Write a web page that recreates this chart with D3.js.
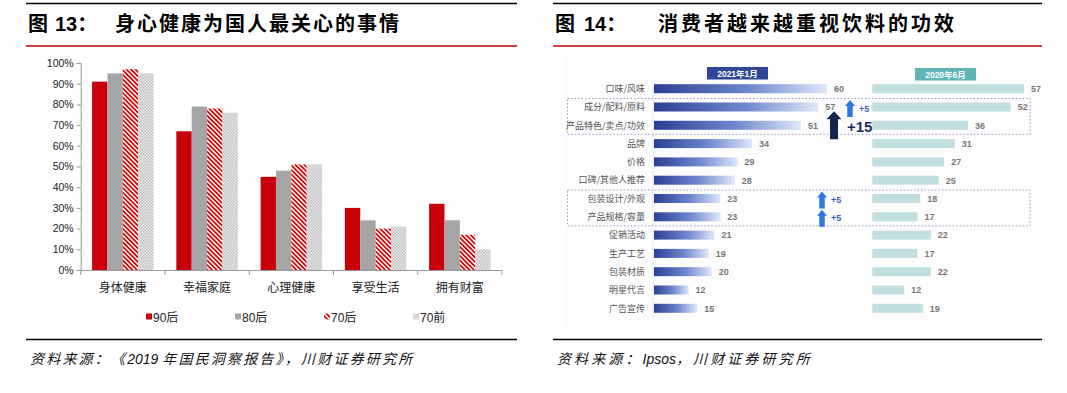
<!DOCTYPE html>
<html>
<head>
<meta charset="utf-8">
<script src="https://cdn.jsdelivr.net/npm/d3@7"></script>
<style>
  html, body { margin: 0; padding: 0; background: #fff; }
  svg { display: block; }
  text { font-family: "Liberation Sans", "Noto Sans CJK SC", sans-serif; }
</style>
</head>
<body>
<svg id="chart" width="1067" height="393"></svg>
<script>
// ---- 图13 数据 ----
const categorias = ["身体健康", "幸福家庭", "心理健康", "享受生活", "拥有财富"];
const geracoes = ["90后", "80后", "70后", "70前"];
const v90 = [91, 67, 45, 30, 32];
const v80 = [95, 79, 48, 24, 24];
const v70 = [97, 78, 51, 20, 17];
const v70q = [95, 76, 51, 21, 10];
const ticksY = [0, 10, 20, 30, 40, 50, 60, 70, 80, 90, 100];

// ---- 图14 数据 ----
const fatores = ["口味/风味", "成分/配料/原料", "产品特色/卖点/功效", "品牌", "价格", "口碑/其他人推荐",
  "包装设计/外观", "产品规格/容量", "促销活动", "生产工艺", "包装材质", "明星代言", "广告宣传"];
const jan2021 = [60, 57, 51, 34, 29, 28, 23, 23, 21, 19, 20, 12, 15];
const jun2020 = [57, 52, 36, 31, 27, 25, 18, 17, 22, 17, 22, 12, 19];
const caixas = [["成分/配料/原料", "产品特色/卖点/功效"], ["包装设计/外观", "产品规格/容量"]];
const setas = [
  { linha: "成分/配料/原料", texto: "+5", tipo: "pequena", dx: 850 },
  { linha: "产品特色/卖点/功效", texto: "+15", tipo: "grande", dx: 834 },
  { linha: "包装设计/外观", texto: "+5", tipo: "pequena", dx: 822 },
  { linha: "产品规格/容量", texto: "+5", tipo: "pequena", dx: 822 }
];

const svg = d3.select("#chart");
const defs = svg.append("defs");

// padrões das barras
const listras = defs.append("pattern").attr("id", "listraVermelha")
  .attr("width", 3.2).attr("height", 3.2).attr("patternUnits", "userSpaceOnUse")
  .attr("patternTransform", "rotate(-45)");
listras.append("rect").attr("width", 3.2).attr("height", 3.2).attr("fill", "#fff");
listras.append("rect").attr("width", 1.7).attr("height", 3.2).attr("fill", "#d40000");

const xadrez = defs.append("pattern").attr("id", "xadrezCinza")
  .attr("width", 3).attr("height", 3).attr("patternUnits", "userSpaceOnUse");
xadrez.append("rect").attr("width", 3).attr("height", 3).attr("fill", "#f2f2f2");
xadrez.append("rect").attr("width", 1.5).attr("height", 1.5).attr("fill", "#b8b8b8");
xadrez.append("rect").attr("x", 1.5).attr("y", 1.5).attr("width", 1.5).attr("height", 1.5).attr("fill", "#b8b8b8");

const grad = defs.append("linearGradient").attr("id", "gradAzul")
  .attr("x1", "0%").attr("x2", "100%").attr("y1", "0%").attr("y2", "0%");
grad.append("stop").attr("offset", "0%").attr("stop-color", "#2b3f94");
grad.append("stop").attr("offset", "55%").attr("stop-color", "#6f87cf");
grad.append("stop").attr("offset", "100%").attr("stop-color", "#dfe7f8");

const cores = ["#c8000b", "#a5a5a5", "url(#listraVermelha)", "url(#xadrezCinza)"];

// ---- títulos e linhas ----
function cabecalho(x1, x2, num, xNum, titulo, xTit, wTit) {
  svg.append("line").attr("x1", x1).attr("x2", x2).attr("y1", 3.5).attr("y2", 3.5)
    .attr("stroke", "#000").attr("stroke-width", 1.5);
  svg.append("line").attr("x1", x1).attr("x2", x2).attr("y1", 46).attr("y2", 46)
    .attr("stroke", "#c00000").attr("stroke-width", 1.5);
  const estilo = sel => sel.attr("font-size", 20).attr("font-weight", "bold").attr("fill", "#000")
    .style("font-family", "'Noto Sans CJK SC', sans-serif");
  svg.append("text").attr("x", x1 + 2).attr("y", 31).text("图").call(estilo);
  svg.append("text").attr("x", xNum).attr("y", 31).text(num).call(estilo)
    .style("font-family", "'Liberation Sans', 'Noto Sans CJK SC', sans-serif");
  svg.append("text").attr("x", xTit).attr("y", 31).text(titulo).call(estilo)
    .attr("textLength", wTit).attr("lengthAdjust", "spacing");
  svg.append("line").attr("x1", x1).attr("x2", x2).attr("y1", 339.5).attr("y2", 339.5)
    .attr("stroke", "#000").attr("stroke-width", 1.3);
}
cabecalho(26, 517, "13：", 55, "身心健康为国人最关心的事情", 115, 284);
cabecalho(553, 1042, "14：", 584, "消费者越来越重视饮料的功效", 658, 296);

// fonte: partes em chinês com espaçamento, partes latinas normais
function fonte(x, partes, esp) {
  const t = svg.append("text").attr("x", x).attr("y", 364)
    .attr("font-size", 14).attr("font-style", "italic").attr("fill", "#111");
  partes.forEach(p => {
    t.append("tspan").text(p)
      .attr("letter-spacing", /[A-Za-z0-9]/.test(p) ? 0 : esp);
  });
}
fonte(30, ["资料来源：《", "2019 ", "年国民洞察报告》，川财证券研究所"], 2.2);
fonte(557, ["资料来源：", "Ipsos", "，川财证券研究所"], 3.1);

// ---- 图13: barras agrupadas ----
const y = d3.scaleLinear().domain([0, 100]).range([270, 63]);
const x0 = d3.scaleBand().domain(categorias).range([80.7, 502]).paddingInner(0.27).paddingOuter(0.135);
const x1 = d3.scaleBand().domain(geracoes).range([0, x0.bandwidth()]);
const series = [v90, v80, v70, v70q];

const eixoY = svg.append("g").attr("transform", "translate(80.7,0)")
  .call(d3.axisLeft(y).tickValues(ticksY).tickSize(4).tickFormat(d => d + "%"));
eixoY.select(".domain").attr("stroke", "#999");
eixoY.selectAll(".tick line").attr("stroke", "#999");
eixoY.selectAll(".tick text").attr("font-size", 10.5).attr("fill", "#222")
  .style("font-family", "'Liberation Sans', sans-serif");

const grupos = svg.append("g").selectAll("g").data(categorias).join("g")
  .attr("transform", d => `translate(${x0(d)},0)`);
geracoes.forEach((g, gi) => {
  grupos.append("rect")
    .attr("x", x1(g)).attr("width", x1.bandwidth())
    .attr("y", (d, i) => y(series[gi][i]))
    .attr("height", (d, i) => y(0) - y(series[gi][i]))
    .attr("fill", cores[gi]);
});

// eixo x com marcas entre categorias
const eixoX = svg.append("g");
eixoX.append("line").attr("x1", 80.7).attr("x2", 502).attr("y1", 270.5).attr("y2", 270.5)
  .attr("stroke", "#999");
const limites = categorias.map(c => x0(c) - x0.step() * x0.paddingOuter()).concat([502]);
eixoX.selectAll(".lim").data(limites).join("line").attr("class", "lim")
  .attr("x1", d => d).attr("x2", d => d).attr("y1", 270).attr("y2", 275).attr("stroke", "#999");
eixoX.selectAll(".cat").data(categorias).join("text").attr("class", "cat")
  .attr("x", d => x0(d) + x0.bandwidth() / 2).attr("y", 292)
  .attr("text-anchor", "middle").attr("font-size", 12).attr("fill", "#222").text(d => d)
  .style("font-family", "'Noto Sans CJK SC', sans-serif");

// legenda
const posLegenda = [146, 235, 324, 413];
const leg = svg.append("g").selectAll("g").data(geracoes).join("g")
  .attr("transform", (d, i) => `translate(${posLegenda[i]},317)`);
leg.append("rect").attr("x", 0).attr("y", -3.5).attr("width", 6).attr("height", 6)
  .attr("fill", (d, i) => cores[i]);
leg.append("text").attr("x", 7).attr("y", 4.5).attr("font-size", 12).attr("fill", "#222").text(d => d);

// ---- 图14: barras horizontais ----
svg.append("rect").attr("x", 565).attr("y", 56).attr("width", 473).attr("height", 272)
  .attr("fill", "#fdfdfe");

const yb = d3.scalePoint().domain(fatores).range([88.7, 308.3]);
const xa = d3.scaleLinear().domain([0, 60]).range([654, 827]);
const xb = d3.scaleLinear().domain([0, 57]).range([872.3, 1024]);
const alt = 9;

// linha de eixo tênue
const eixoB = svg.append("g").attr("transform", "translate(652.5,0)")
  .call(d3.axisLeft(d3.scaleBand().domain(fatores).range([79.5, 317.5])).tickSize(0).tickFormat(""));
eixoB.select(".domain").attr("stroke", "#e6e6ea");

// caixas pontilhadas
svg.append("g").selectAll("rect").data(caixas).join("rect")
  .attr("x", 567.5).attr("width", 462.5)
  .attr("y", d => yb(d[0]) - 8.5)
  .attr("height", d => yb(d[1]) - yb(d[0]) + 17.5)
  .attr("fill", "none").attr("stroke", "#9c9cc4").attr("stroke-width", 1)
  .attr("stroke-dasharray", "1.5,2");

// cabeçalhos das colunas
const cab = [
  { txt: "2021年1月", x: 707, y: 67, cor: "#2f4796" },
  { txt: "2020年6月", x: 915, y: 68, cor: "#5fb4b6" }
];
const cg = svg.append("g").selectAll("g").data(cab).join("g");
cg.append("rect").attr("x", d => d.x).attr("y", d => d.y).attr("width", 61).attr("height", 12.5)
  .attr("fill", d => d.cor);
cg.append("text").attr("x", d => d.x + 30.5).attr("y", d => d.y + 9.5).attr("text-anchor", "middle")
  .attr("font-size", 8.5).attr("font-weight", "bold").attr("fill", "#fff").text(d => d.txt);

// rótulos das categorias
svg.append("g").selectAll("text").data(fatores).join("text")
  .attr("x", 645).attr("y", d => yb(d) + 3.2).attr("text-anchor", "end")
  .attr("font-size", 9).attr("fill", "#555").text(d => d)
  .style("font-family", "'Noto Sans CJK SC', sans-serif");

// barras 2021
svg.append("g").selectAll("rect").data(jan2021).join("rect")
  .attr("x", xa(0)).attr("y", (d, i) => yb(fatores[i]) - alt / 2)
  .attr("width", d => xa(d) - xa(0)).attr("height", alt).attr("fill", "url(#gradAzul)");
svg.append("g").selectAll("text").data(jan2021).join("text")
  .attr("x", d => xa(d) + 7).attr("y", (d, i) => yb(fatores[i]) + 3.3)
  .attr("font-size", 9).attr("font-weight", "bold").attr("fill", "#777").text(d => d);

// barras 2020
svg.append("g").selectAll("rect").data(jun2020).join("rect")
  .attr("x", xb(0)).attr("y", (d, i) => yb(fatores[i]) - alt / 2)
  .attr("width", d => xb(d) - xb(0)).attr("height", alt).attr("fill", "#c2dfdf");
svg.append("g").selectAll("text").data(jun2020).join("text")
  .attr("x", d => xb(d) + 7).attr("y", (d, i) => yb(fatores[i]) + 3.3)
  .attr("font-size", 9).attr("font-weight", "bold").attr("fill", "#777").text(d => d);

// setas de variação
function seta(cx, topo, base, larg, haste, cabeca, cor) {
  const p = d3.path();
  p.moveTo(cx, topo);
  p.lineTo(cx + larg / 2, topo + cabeca);
  p.lineTo(cx + haste / 2, topo + cabeca);
  p.lineTo(cx + haste / 2, base);
  p.lineTo(cx - haste / 2, base);
  p.lineTo(cx - haste / 2, topo + cabeca);
  p.lineTo(cx - larg / 2, topo + cabeca);
  p.closePath();
  svg.append("path").attr("d", p.toString()).attr("fill", cor);
}
setas.forEach(s => {
  const cy = yb(s.linha);
  if (s.tipo === "grande") {
    seta(s.dx, cy - 14, cy + 14, 15, 8, 8, "#16244f");
    svg.append("text").attr("x", s.dx + 13).attr("y", cy + 7)
      .attr("font-size", 15).attr("font-weight", "bold").attr("fill", "#1d2d5e").text(s.texto);
  } else {
    seta(s.dx, cy - 7, cy + 10, 10, 5.5, 6, "#2f78e3");
    svg.append("text").attr("x", s.dx + 9).attr("y", cy + 4.5)
      .attr("font-size", 9).attr("font-weight", "bold").attr("fill", "#3d63b5").text(s.texto);
  }
});
</script>
</body>
</html>
